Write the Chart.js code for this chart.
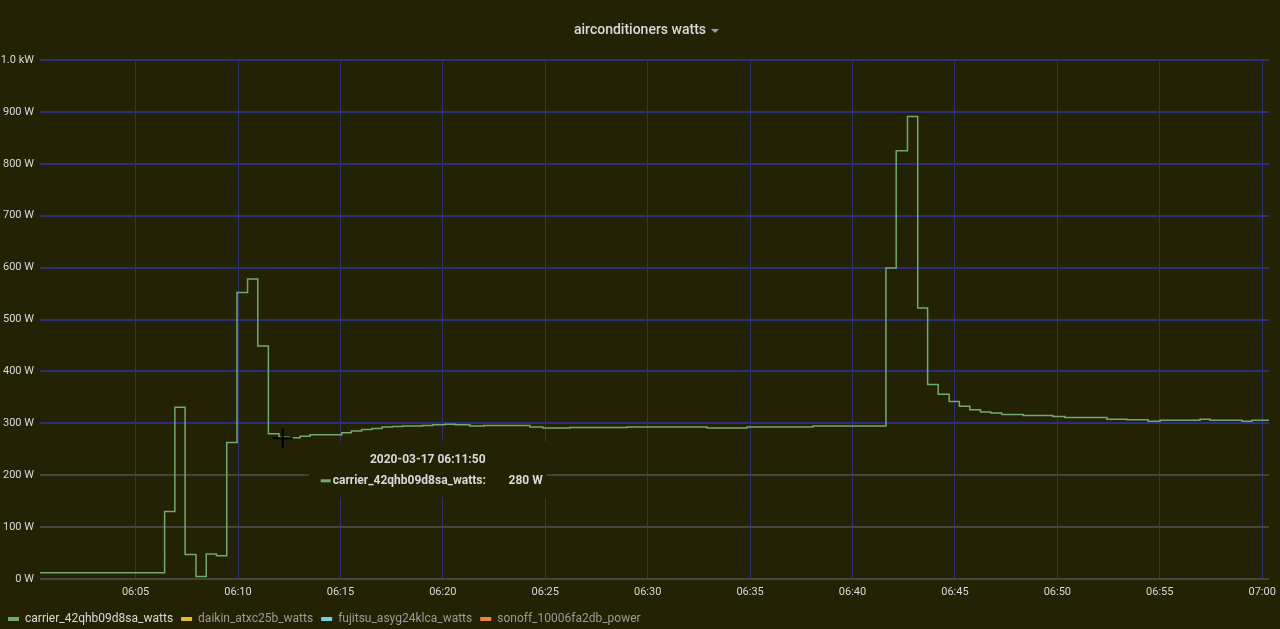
<!DOCTYPE html>
<html>
<head>
<meta charset="utf-8">
<title>airconditioners watts</title>
<script src="https://cdn.jsdelivr.net/npm/chart.js@4.4.1/dist/chart.umd.min.js"></script>
<style>
  html, body { margin: 0; padding: 0; background: #232205; }
  #wrap { width: 1280px; height: 629px; }
  canvas { display: block; }
</style>
</head>
<body>
<div id="wrap"><canvas id="acChart" width="1280" height="629"></canvas></div>
<script>
// series values, stepped at each sample time
const sampleTimes = [
    '06:00:20', '06:06:25', '06:06:55', '06:07:25', '06:07:57', '06:08:27', '06:08:57', '06:09:27',
    '06:09:57', '06:10:28', '06:10:58', '06:11:29', '06:12:00', '06:12:30', '06:13:02', '06:13:31',
    '06:15:04', '06:15:32', '06:16:02', '06:16:32', '06:17:02', '06:17:32', '06:18:02', '06:19:00',
    '06:19:30', '06:20:06', '06:20:36', '06:21:19', '06:22:00', '06:24:15', '06:24:53', '06:26:12',
    '06:29:00', '06:32:54', '06:34:51', '06:38:04', '06:41:38', '06:42:08', '06:42:41', '06:43:11',
    '06:43:40', '06:44:11', '06:44:43', '06:45:13', '06:45:44', '06:46:15', '06:46:45', '06:47:17',
    '06:48:20', '06:49:47', '06:50:22', '06:52:25', '06:53:24', '06:54:26', '06:55:01', '06:56:58',
    '06:57:27', '06:59:01', '06:59:30', '07:00:20'
];
const carrierWatts = [
    12, 130, 331, 47, 5, 48, 45, 263,
    552, 578, 449, 280, 273, 272, 275, 278,
    282, 285, 288, 290, 293, 294, 295, 296,
    297, 298, 297, 295, 296, 293, 291, 292,
    293, 291, 293, 295, 599, 825, 891, 522,
    375, 356, 342, 333, 326, 322, 320, 317,
    315, 313, 311, 308, 307, 304, 306, 308,
    306, 304, 306, 306
];
const daikinWatts = [];
const fujitsuWatts = [];
const sonoffWatts = [];

const seriesNames = ['carrier_42qhb09d8sa_watts', 'daikin_atxc25b_watts', 'fujitsu_asyg24klca_watts', 'sonoff_10006fa2db_power'];
const xTickLabels = ['06:05', '06:10', '06:15', '06:20', '06:25', '06:30', '06:35', '06:40', '06:45', '06:50', '06:55', '07:00'];
const yTickValues = [0, 100, 200, 300, 400, 500, 600, 700, 800, 900, 1000];
const xRange = ['06:00:20', '07:00:20'];
const hoverTime = '06:11:50';
const cursorTime = '06:12:11';

const seriesColors = ['#73a96c', '#eab839', '#6ed0e0', '#ef843c'];
const bgColor = '#232205';
const textColor = '#d8d9da';
const gridBlue = '#2e2e78';
const gridGrey = '#44443e';

const toSec = (t) => {
    const p = t.split(':').map(Number);
    return p[0] * 3600 + p[1] * 60 + (p[2] || 0);
};

const valueAt = (t) => {
    const s = toSec(t);
    let idx = 0;
    sampleTimes.forEach((st, i) => { if (toSec(st) <= s) idx = i; });
    return carrierWatts[idx];
};

const toPoints = (values) => values.map((v, i) => ({ x: toSec(sampleTimes[i]), y: v }));

const backgroundPlugin = {
    id: 'panelBackground',
    beforeDraw(chart) {
        const ctx = chart.ctx;
        ctx.save();
        ctx.fillStyle = bgColor;
        ctx.fillRect(0, 0, chart.width, chart.height);
        ctx.restore();
    }
};

// little dropdown caret next to the panel title
const titleCaretPlugin = {
    id: 'titleCaret',
    afterDraw(chart) {
        const ctx = chart.ctx;
        const tb = chart.titleBlock;
        ctx.save();
        ctx.font = '500 14px Roboto';
        const w = ctx.measureText(chart.options.plugins.title.text).width;
        const cx = (tb.left + tb.right) / 2 + w / 2 + 9;
        const cy = 31;
        ctx.fillStyle = '#9a9cab';
        ctx.beginPath();
        ctx.moveTo(cx - 4, cy - 2);
        ctx.lineTo(cx + 4, cy - 2);
        ctx.lineTo(cx, cy + 2);
        ctx.closePath();
        ctx.fill();
        ctx.restore();
    }
};

// frozen hover state: tooltip box + mouse cross
const hoverPlugin = {
    id: 'hoverTooltip',
    afterDraw(chart) {
        const { ctx, scales: { x, y } } = chart;
        const mx = x.getPixelForValue(toSec(cursorTime));
        const my = y.getPixelForValue(valueAt(cursorTime));
        const left = mx + 26;
        const top = my + 4;
        const w = 238;
        const h = 56;
        ctx.save();
        ctx.fillStyle = bgColor;
        ctx.fillRect(left, top, w, h);

        ctx.fillStyle = textColor;
        ctx.font = 'bold 12px Roboto';
        ctx.textBaseline = 'middle';
        ctx.textAlign = 'center';
        ctx.fillText('2020-03-17 ' + hoverTime, left + w / 2, top + 19);

        ctx.fillStyle = seriesColors[0];
        ctx.fillRect(left + 12, top + 38, 10, 3);
        ctx.fillStyle = textColor;
        ctx.textAlign = 'left';
        ctx.fillText(seriesNames[0] + ':', left + 24, top + 39.5);
        ctx.textAlign = 'right';
        ctx.fillText(valueAt(hoverTime) + ' W', left + w - 4, top + 39.5);

        ctx.strokeStyle = '#000000';
        ctx.lineWidth = 2;
        ctx.beginPath();
        ctx.moveTo(mx - 10, my + 1);
        ctx.lineTo(mx + 10, my + 1);
        ctx.moveTo(mx, my - 9);
        ctx.lineTo(mx, my + 11);
        ctx.stroke();
        ctx.restore();
    }
};

const allSeries = [carrierWatts, daikinWatts, fujitsuWatts, sonoffWatts];

const datasets = allSeries.map((values, i) => ({
    label: seriesNames[i],
    data: toPoints(values),
    borderColor: seriesColors[i],
    backgroundColor: seriesColors[i],
    borderWidth: 1.5,
    pointRadius: 0,
    fill: false,
    stepped: true,
    tension: 0
}));

const ctx = document.getElementById('acChart').getContext('2d');
const acChart = new Chart(ctx, {
    type: 'line',
    data: { datasets: datasets },
    options: {
        responsive: false,
        animation: false,
        events: [],
        layout: { padding: { left: 0, right: 0, top: 0, bottom: -6 } },
        scales: {
            x: {
                type: 'linear',
                min: toSec(xRange[0]),
                max: toSec(xRange[1]),
                afterBuildTicks: (scale) => {
                    scale.ticks = xTickLabels.map(t => ({ value: toSec(t) }));
                },
                afterFit: (scale) => {
                    scale.height = 26;
                    scale.paddingLeft = 0;
                    scale.paddingRight = 11;
                },
                ticks: {
                    color: textColor,
                    font: { family: 'Roboto', size: 11 },
                    padding: 7,
                    maxRotation: 0,
                    autoSkip: false,
                    callback: (v, i) => xTickLabels[i]
                },
                grid: { color: '#303074', drawTicks: false },
                border: { display: false }
            },
            y: {
                min: 0,
                max: 1000,
                afterBuildTicks: (scale) => {
                    scale.ticks = yTickValues.map(v => ({ value: v }));
                },
                afterFit: (scale) => {
                    scale.width = 40;
                    scale.paddingTop = 0;
                    scale.paddingBottom = 0;
                },
                ticks: {
                    color: textColor,
                    font: { family: 'Roboto', size: 11 },
                    padding: 6,
                    callback: (v) => v >= 1000 ? (v / 1000).toFixed(1) + ' kW' : v + ' W'
                },
                grid: {
                    color: yTickValues.map(v => v < 300 ? gridGrey : gridBlue),
                    lineWidth: 2,
                    drawTicks: false
                },
                border: { display: false }
            }
        },
        plugins: {
            title: {
                display: true,
                text: 'airconditioners watts',
                color: textColor,
                font: { family: 'Roboto', size: 14, weight: '500' },
                padding: { top: 21.6, bottom: 21.6 }
            },
            legend: {
                position: 'bottom',
                align: 'start',
                labels: {
                    font: { family: 'Roboto', size: 12 },
                    boxWidth: 11,
                    boxHeight: 4,
                    padding: 8,
                    generateLabels: (chart) => chart.data.datasets.map((ds, i) => ({
                        text: ds.label,
                        fillStyle: ds.borderColor,
                        strokeStyle: ds.borderColor,
                        lineWidth: 0,
                        fontColor: i === 0 ? textColor : '#9a9a9a',
                        hidden: false,
                        datasetIndex: i
                    }))
                }
            },
            tooltip: { enabled: false }
        }
    },
    plugins: [backgroundPlugin, titleCaretPlugin, hoverPlugin]
});
</script>
</body>
</html>
